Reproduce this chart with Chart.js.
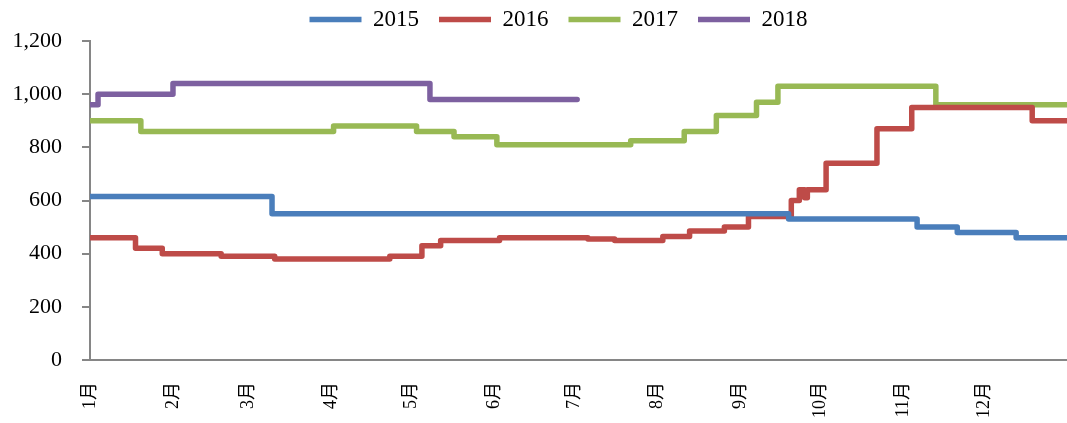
<!DOCTYPE html>
<html lang="zh">
<head>
    <meta charset="UTF-8">
    <script src="https://cdn.jsdelivr.net/npm/chart.js"></script>
    <style>
        body { margin: 0; padding: 0; background: #fff; }
        #wrap { width: 1067px; height: 423px; }
    </style>
    <title>2015-2018</title>
</head>
<body>
    <div id="wrap"><canvas id="chart"></canvas></div>
    <script>
        // day of year where each step starts, and the value from that day on
        const monthLabels = ["1月", "2月", "3月", "4月", "5月", "6月", "7月", "8月", "9月", "10月", "11月", "12月"];
        const monthStarts = [0, 31, 59, 90, 120, 151, 181, 212, 243, 273, 304, 334];

        const days2015 = [0, 68, 261, 309, 324, 346, 365];
        const vals2015 = [615, 550, 530, 500, 480, 460, 460];

        const days2016 = [0, 17, 27, 49, 69, 112, 124, 131, 153, 186, 196, 214, 224, 237, 246, 262, 265, 267, 268, 275, 294, 307, 352, 365];
        const vals2016 = [460, 420, 400, 390, 380, 390, 430, 450, 460, 455, 450, 465, 485, 500, 540, 600, 640, 610, 640, 740, 870, 950, 900, 900];

        const days2017 = [0, 19, 91, 122, 136, 152, 202, 222, 234, 249, 257, 316, 365];
        const vals2017 = [900, 860, 880, 860, 840, 810, 825, 860, 920, 970, 1030, 960, 960];

        const days2018 = [0, 3, 31, 127, 182];
        const vals2018 = [960, 1000, 1040, 980, 980];

        const fontFamily = '"Liberation Serif", "Times New Roman", "Noto Sans CJK SC", serif';

        function points(days, vals) {
            return days.map((d, i) => ({ x: d, y: vals[i] }));
        }

        function series(label, days, vals, color) {
            return {
                label: label,
                data: points(days, vals),
                borderColor: color,
                backgroundColor: color,
                borderWidth: 5.5,
                borderCapStyle: "round",
                borderJoinStyle: "round",
                pointRadius: 0,
                pointHoverRadius: 0,
                pointStyle: "line",
                stepped: true,
                fill: false
            };
        }

        // nudge the legend a little to the left, like the original
        const legendShift = {
            id: "legendShift",
            afterLayout(chart) {
                if (chart.legend) {
                    chart.legend.left -= 20;
                    chart.legend.right -= 20;
                }
            }
        };

        new Chart(document.getElementById("chart"), {
            type: "line",
            data: {
                datasets: [
                    series("2015", days2015, vals2015, "#4a7ebb"),
                    series("2016", days2016, vals2016, "#be4b48"),
                    series("2017", days2017, vals2017, "#98b954"),
                    series("2018", days2018, vals2018, "#7d60a0")
                ]
            },
            plugins: [legendShift],
            options: {
                responsive: true,
                maintainAspectRatio: false,
                animation: false,
                layout: { padding: { top: -12, right: 0, bottom: 0, left: 0 } },
                plugins: {
                    tooltip: { enabled: false },
                    legend: {
                        position: "top",
                        fullSize: false,
                        labels: {
                            usePointStyle: true,
                            pointStyleWidth: 52,
                            padding: 20,
                            color: "#000",
                            font: { family: fontFamily, size: 23 }
                        }
                    }
                },
                scales: {
                    x: {
                        type: "linear",
                        min: 0,
                        max: 365,
                        afterBuildTicks: function (scale) {
                            scale.ticks = monthStarts.map(v => ({ value: v }));
                        },
                        afterFit: function (scale) { scale.height = 63; },
                        ticks: {
                            autoSkip: false,
                            minRotation: 90,
                            maxRotation: 90,
                            padding: 14,
                            color: "#000",
                            font: { family: fontFamily, size: 18 },
                            callback: function (value) {
                                const i = monthStarts.indexOf(value);
                                return i >= 0 ? monthLabels[i] : "";
                            }
                        },
                        grid: { display: false },
                        border: { display: true, color: "#868686", width: 2 }
                    },
                    y: {
                        min: 0,
                        max: 1200,
                        afterFit: function (scale) { scale.width = 90; },
                        ticks: {
                            stepSize: 200,
                            padding: 20,
                            color: "#000",
                            font: { family: fontFamily, size: 22 },
                            callback: v => v.toLocaleString("en-US")
                        },
                        grid: {
                            drawOnChartArea: false,
                            drawTicks: true,
                            tickLength: 8,
                            color: "#868686",
                            lineWidth: 2
                        },
                        border: { display: true, color: "#868686", width: 2 }
                    }
                }
            }
        });
    </script>
</body>
</html>
